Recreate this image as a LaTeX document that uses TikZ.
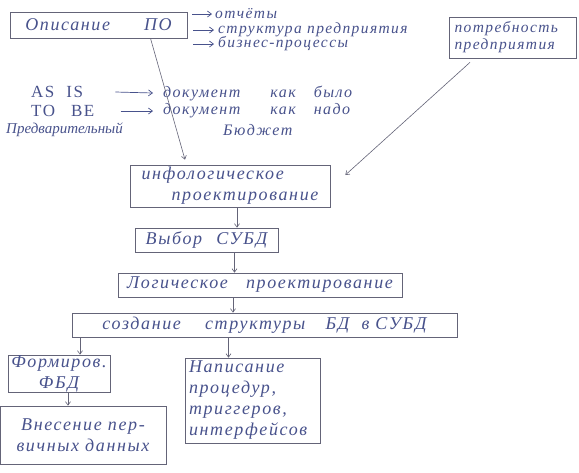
\documentclass[tikz,border=0pt]{standalone}
\usepackage{fontspec}
\setmainfont{Liberation Serif}
\newfontfamily\hand{Liberation Serif}[LetterSpace=9]
\newfontfamily\handtight{Liberation Serif}
\usetikzlibrary{arrows.meta}
\definecolor{ink}{RGB}{72,82,140}
\definecolor{boxc}{RGB}{100,100,120}
\begin{document}
\begin{tikzpicture}[x=1pt,y=-1pt,
  every node/.style={text=ink, inner sep=0pt},
  hw/.style={font=\hand\itshape\fontsize{18}{21}\selectfont},
  hwm/.style={font=\hand\itshape\fontsize{16}{18}\selectfont},
  hws/.style={font=\hand\itshape\fontsize{15.5}{17}\selectfont},
  box/.style={draw=boxc, line width=0.7pt, rectangle, hw},
  conn/.style={draw=boxc, line width=0.6pt, -{Straight Barb[length=3.5pt,width=5pt]}},
  penarrow/.style={draw=ink, line width=0.7pt, -{Straight Barb[length=4pt,width=6pt]}}]
\useasboundingbox[fill=white] (0,0) rectangle (579,472);

% boxes
\node[box, minimum width=177pt, minimum height=26pt] (desc) at (98.5,25) {Описание\hspace{34pt}ПО};
\node[box, hws, minimum width=127pt, minimum height=41pt, align=left, text width=117pt, inner xsep=5pt] (need) at (513,37.5) {потребность\\предприятия};
\node[box, minimum width=200pt, minimum height=42pt, align=left, inner xsep=8pt] (info) at (230,186) {инфологическое\\\hspace*{30pt}проектирование};
\node[box, minimum width=143pt, minimum height=24pt] (choice) at (206.5,240) {Выбор\hspace{8pt} СУБД};
\node[box, minimum width=284pt, minimum height=24pt] (logic) at (260,285) {Логическое\hspace{12pt} проектирование};
\node[box, minimum width=385pt, minimum height=24pt] (create) at (264.5,325) {создание\hspace{18pt} структуры\hspace{14pt} БД\hspace{6pt} в СУБД};
\node[box, minimum width=102pt, minimum height=37pt, align=center] (form) at (59,373.5) {Формиров.\\ФБД};
\node[box, minimum width=166pt, minimum height=58pt, align=center] (enter) at (83,435) {Внесение пер-\\вичных данных};
\node[box, minimum width=135pt, minimum height=85pt, align=left, text width=127pt, inner xsep=4pt] (write) at (252.5,400.5) {Написание\\процедур,\\триггеров,\\интерфейсов};

% side notes
\node[hws, anchor=west] (r1) at (215,14) {отчёты};
\node[hws, anchor=west] (r2) at (218,30) {структура предприятия};
\node[hws, anchor=west] (r3) at (218,44) {бизнес-процессы};
\draw[penarrow] ([xshift=5pt]desc.east |- r1.west) -- ([xshift=-3pt]r1.west);
\draw[penarrow] ([xshift=6pt]desc.east |- r2.west) -- ([xshift=-4pt]r2.west);
\draw[penarrow] ([xshift=6pt]desc.east |- r3.west) -- ([xshift=-4pt]r3.west);

\node[font=\hand\fontsize{17}{19}\selectfont, anchor=west] (asis) at (31,92) {AS\hspace{12pt}IS};
\node[hwm, anchor=west] (asisdoc) at (163,93) {документ\hspace{30pt}как\hspace{18pt}было};
\node[font=\hand\fontsize{17}{19}\selectfont, anchor=west] (tobe) at (31,111) {TO\hspace{16pt}BE};
\node[hwm, anchor=west] (tobedoc) at (163,111) {документ\hspace{30pt}как\hspace{18pt}надо};
\node[font=\handtight\itshape\fontsize{15}{17}\selectfont, anchor=west] (prelim) at (6,130) {Предварительный};
\node[hwm, anchor=west] (budget) at (223,130) {Бюджет};
\draw[penarrow] ([xshift=32pt]asis.east) -- ([xshift=-10pt]asisdoc.west);
\draw[penarrow] ([xshift=26pt]tobe.east) -- ([xshift=-10pt]tobedoc.west);

% connectors
\draw[conn] ([xshift=52pt]desc.south) -- ([xshift=-45pt,yshift=5pt]info.north);
\draw[conn] ([xshift=-43pt,yshift=-4pt]need.south) -- ([xshift=15pt,yshift=11pt]info.east);
\draw[conn] ([xshift=7pt]info.south) -- ([xshift=7pt]info.south |- choice.north);
\draw[conn] ([xshift=28pt]choice.south) -- ([xshift=28pt]choice.south |- logic.north);
\draw[conn] ([xshift=-27pt]logic.south) -- ([xshift=-27pt]logic.south |- create.north);
\draw[conn] ([xshift=21pt]form.north |- create.south) -- ([xshift=21pt]form.north);
\draw[conn] ([xshift=-24pt]write.north |- create.south) -- ([xshift=-24pt]write.north);
\draw[conn] ([xshift=9pt]form.south) -- ([xshift=9pt]form.south |- enter.north);
\end{tikzpicture}
\end{document}
